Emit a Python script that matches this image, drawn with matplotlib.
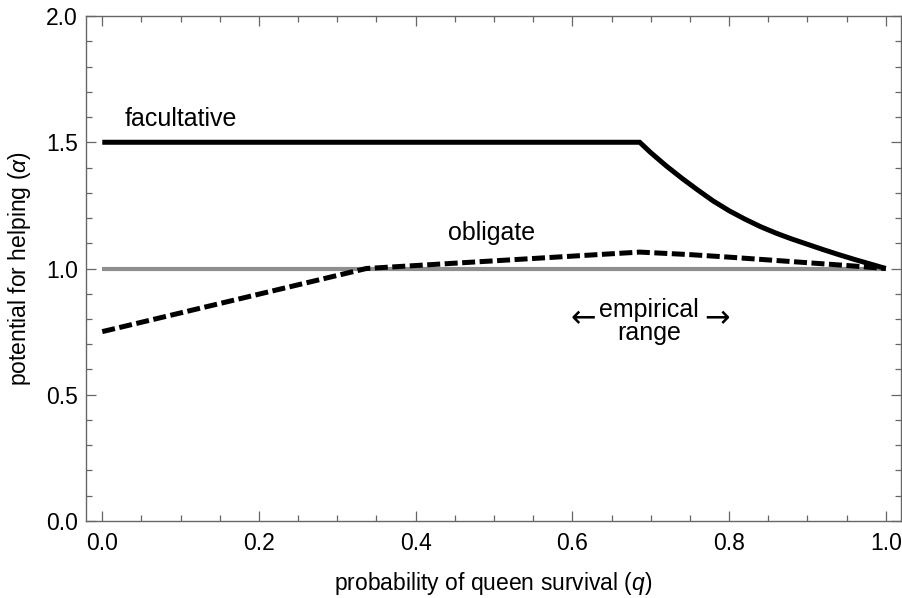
import matplotlib
matplotlib.use("Agg")
import matplotlib.pyplot as plt
from matplotlib.ticker import MultipleLocator

# ── Data ─────────────────────────────────────────────────────────────────────

fac_q = [0.0, 0.686, 0.70, 0.72, 0.74, 0.76, 0.78, 0.80, 0.82, 0.84,
         0.86, 0.88, 0.90, 0.92, 0.94, 0.96, 0.98, 1.0]
fac_a = [1.5, 1.5, 1.459, 1.406, 1.357, 1.311, 1.267, 1.229, 1.196, 1.166,
         1.140, 1.117, 1.096, 1.075, 1.055, 1.036, 1.018, 1.0]

obl_q = [0.0, 0.337, 0.686, 0.75, 0.80, 0.85, 0.90, 0.95, 1.0]
obl_a = [0.75, 1.0, 1.065, 1.055, 1.045, 1.034, 1.023, 1.012, 1.0]

ref_q = [0.0, 1.0]
ref_a = [1.0, 1.0]

# ── Style ────────────────────────────────────────────────────────────────────

plt.rcParams["font.family"] = ["Liberation Sans", "DejaVu Sans"]
plt.rcParams["mathtext.fontset"] = "custom"
plt.rcParams["mathtext.it"] = "Liberation Sans:italic"
plt.rcParams["mathtext.rm"] = "Liberation Sans"

FRAME = "#666666"

fig = plt.figure(figsize=(9.03, 5.98), dpi=100)
ax = fig.add_axes([0.0952, 0.1288, 0.9026, 0.8444])

ax.plot(ref_q, ref_a, color="#8e8e8e", lw=3.0, solid_capstyle="butt", zorder=1)
ax.plot(obl_q, obl_a, color="black", lw=3.6, ls=(0, (2.6, 0.9)),
        dash_capstyle="butt", zorder=2)
ax.plot(fac_q, fac_a, color="black", lw=3.6, solid_capstyle="butt",
        solid_joinstyle="miter", zorder=3)

ax.set_xlim(-0.0208, 1.0195)
ax.set_ylim(0.0, 2.0)

ax.xaxis.set_major_locator(MultipleLocator(0.2))
ax.xaxis.set_minor_locator(MultipleLocator(0.05))
ax.yaxis.set_major_locator(MultipleLocator(0.5))
ax.yaxis.set_minor_locator(MultipleLocator(0.1))
ax.xaxis.set_major_formatter(lambda v, p: f"{v:.1f}")
ax.yaxis.set_major_formatter(lambda v, p: f"{v:.1f}")

for s in ax.spines.values():
    s.set_color(FRAME)
    s.set_linewidth(1.0)

ax.tick_params(which="both", direction="in", top=True, right=True,
               color=FRAME, width=0.9)
ax.tick_params(which="major", length=7.5, labelsize=16.5)
ax.tick_params(which="minor", length=4)
ax.tick_params(axis="x", which="major", pad=8)
ax.tick_params(axis="y", which="major", pad=6)

ax.set_xlabel("probability of queen survival ($q$)", fontsize=16.5, labelpad=11)
ax.set_ylabel(r"potential for helping ($\alpha$)", fontsize=16.5, labelpad=9)

# annotations
ax.text(0.029, 1.594, "facultative", fontsize=18, ha="left", va="center")
ax.text(0.441, 1.14, "obligate", fontsize=18, ha="left", va="center")
ax.text(0.698, 0.79, "empirical\nrange", fontsize=18, ha="center",
        va="center", linespacing=0.95)
ax.text(0.6135, 0.80, "←", fontsize=22, ha="center", va="center",
        family="DejaVu Sans")
ax.text(0.7845, 0.80, "→", fontsize=22, ha="center", va="center",
        family="DejaVu Sans")

fig.savefig("out.png", dpi=100)
plt.close(fig)
